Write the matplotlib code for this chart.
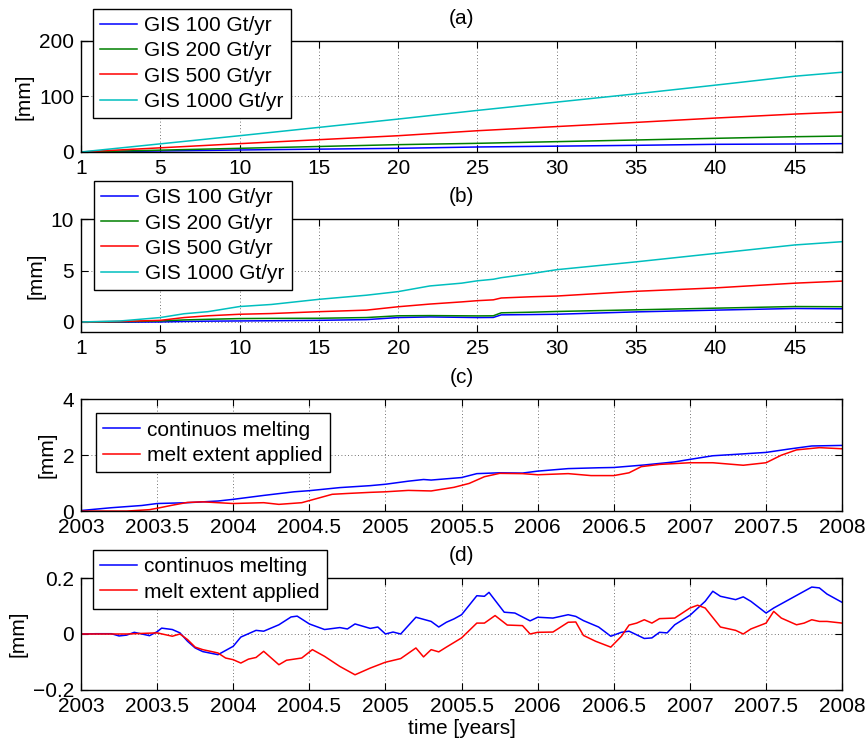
import numpy as np
import matplotlib
matplotlib.use('Agg')
import matplotlib.pyplot as plt

plt.rcParams['font.family'] = ['Liberation Sans', 'DejaVu Sans']
plt.rcParams['font.size'] = 15
plt.rcParams['axes.unicode_minus'] = True

# (a) 累积海平面 - 线性融化
yr_a = [0, 10, 20, 25, 35, 40, 45, 48]
gis100_a = [0, 3.6, 6.6, 9.0, 12.0, 13.8, 14.4, 15.0]
gis200_a = [0, 6.6, 13.2, 15.6, 21.6, 24.6, 27.5, 28.7]
gis500_a = [0, 15.0, 29.3, 38.3, 53.3, 61.1, 68.3, 71.9]
gis1000_a = [0, 29.3, 59.3, 74.9, 104.8, 120.4, 136.5, 143.7]

# (b)
yr_b = [0, 2.5, 5, 6.5, 8, 10, 12, 15, 18, 20, 22, 24, 25, 26, 26.5, 28.4, 30, 35, 40, 45, 48]
gis100_b = [0, -0.02, 0.0, 0.05, 0.08, 0.1, 0.12, 0.16, 0.23, 0.43, 0.49, 0.45, 0.43, 0.44,
            0.69, 0.72, 0.75, 0.98, 1.15, 1.31, 1.28]
gis200_b = [0, 0.02, 0.1, 0.2, 0.26, 0.33, 0.35, 0.36, 0.43, 0.6, 0.62, 0.6, 0.59, 0.6,
            0.89, 0.95, 1.02, 1.18, 1.34, 1.5, 1.48]
gis500_b = [0, 0.05, 0.16, 0.43, 0.6, 0.75, 0.82, 1.0, 1.15, 1.48, 1.74, 1.95, 2.07, 2.15,
            2.33, 2.45, 2.52, 2.98, 3.31, 3.77, 3.97]
gis1000_b = [0, 0.1, 0.43, 0.8, 1.0, 1.5, 1.7, 2.2, 2.6, 2.95, 3.5, 3.77, 4.0, 4.15,
             4.3, 4.7, 5.08, 5.84, 6.66, 7.48, 7.8]

# (c)
t_c_blue = [2003.0, 2003.2, 2003.4, 2003.5, 2003.7, 2003.9, 2004.0, 2004.2, 2004.4, 2004.5,
            2004.7, 2004.9, 2005.0, 2005.15, 2005.25, 2005.3, 2005.5, 2005.6, 2005.75, 2005.9,
            2006.0, 2006.2, 2006.4, 2006.5, 2006.7, 2006.9, 2007.0, 2007.15, 2007.3, 2007.5,
            2007.65, 2007.8, 2008.0]
cont_c = [0.02, 0.12, 0.2, 0.27, 0.3, 0.36, 0.42, 0.56, 0.69, 0.73,
          0.84, 0.91, 0.96, 1.07, 1.13, 1.11, 1.2, 1.34, 1.37, 1.36,
          1.43, 1.52, 1.55, 1.56, 1.65, 1.76, 1.85, 1.98, 2.03, 2.1,
          2.22, 2.33, 2.35]
t_c_red = [2003.0, 2003.3, 2003.45, 2003.5, 2003.6, 2003.7, 2003.8, 2004.0, 2004.2, 2004.3,
           2004.45, 2004.55, 2004.65, 2004.75, 2004.9, 2005.0, 2005.15, 2005.3, 2005.45,
           2005.55, 2005.65, 2005.75, 2005.9, 2006.0, 2006.2, 2006.35, 2006.5, 2006.6,
           2006.68, 2006.8, 2007.0, 2007.15, 2007.35, 2007.5, 2007.6, 2007.7, 2007.85, 2008.0]
melt_c = [0.0, 0.0, 0.05, 0.1, 0.21, 0.31, 0.33, 0.27, 0.3, 0.24,
          0.3, 0.45, 0.6, 0.63, 0.67, 0.69, 0.74, 0.72, 0.85,
          0.99, 1.23, 1.35, 1.34, 1.3, 1.34, 1.27, 1.27, 1.37,
          1.59, 1.67, 1.73, 1.73, 1.64, 1.73, 2.0, 2.19, 2.27, 2.23]

# (d)
t_d_blue = [2003.0, 2003.1, 2003.2, 2003.25, 2003.3, 2003.35, 2003.45, 2003.5, 2003.53, 2003.6,
            2003.65, 2003.7, 2003.75, 2003.8, 2003.9, 2004.0, 2004.05, 2004.15, 2004.2, 2004.3,
            2004.38, 2004.42, 2004.5, 2004.6, 2004.7, 2004.75, 2004.8, 2004.9, 2004.95, 2005.0,
            2005.05, 2005.1, 2005.2, 2005.3, 2005.35, 2005.4, 2005.45, 2005.5, 2005.6, 2005.65,
            2005.68, 2005.78, 2005.85, 2005.95, 2006.0, 2006.1, 2006.2, 2006.25, 2006.3, 2006.4,
            2006.48, 2006.55, 2006.6, 2006.7, 2006.75, 2006.8, 2006.85, 2006.9, 2007.0, 2007.1,
            2007.15, 2007.2, 2007.3, 2007.35, 2007.4, 2007.5, 2007.55, 2007.65, 2007.75, 2007.8,
            2007.85, 2007.9, 2008.0]
cont_d = [0, 0.001, 0.001, -0.007, -0.004, 0.006, -0.006, 0.008, 0.021, 0.016,
          0.004, -0.026, -0.05, -0.063, -0.074, -0.044, -0.011, 0.013, 0.01, 0.033,
          0.061, 0.064, 0.036, 0.016, 0.023, 0.018, 0.036, 0.02, 0.025, 0.0,
          0.007, 0.0, 0.06, 0.045, 0.025, 0.042, 0.054, 0.069, 0.137, 0.135,
          0.149, 0.078, 0.075, 0.047, 0.06, 0.057, 0.069, 0.063, 0.048, 0.025,
          -0.008, 0.006, 0.01, -0.016, -0.014, 0.006, 0.004, 0.033, 0.067, 0.117,
          0.153, 0.135, 0.123, 0.133, 0.117, 0.075, 0.093, 0.123, 0.153, 0.168,
          0.165, 0.143, 0.113]
t_d_red = [2003.0, 2003.3, 2003.5, 2003.6, 2003.65, 2003.7, 2003.75, 2003.8, 2003.9, 2003.95,
           2004.0, 2004.05, 2004.1, 2004.15, 2004.2, 2004.3, 2004.35, 2004.45, 2004.52, 2004.6,
           2004.7, 2004.8, 2004.9, 2005.0, 2005.1, 2005.2, 2005.25, 2005.3, 2005.35, 2005.4,
           2005.5, 2005.6, 2005.65, 2005.72, 2005.8, 2005.9, 2005.95, 2006.0, 2006.1, 2006.2,
           2006.25, 2006.3, 2006.38, 2006.48, 2006.55, 2006.6, 2006.65, 2006.7, 2006.75, 2006.8,
           2006.9, 2007.0, 2007.05, 2007.1, 2007.2, 2007.3, 2007.35, 2007.4, 2007.5, 2007.55,
           2007.6, 2007.7, 2007.75, 2007.8, 2007.85, 2007.9, 2008.0]
melt_d = [0, 0, 0.004, -0.008, 0, -0.02, -0.047, -0.056, -0.068, -0.086,
          -0.092, -0.104, -0.09, -0.084, -0.062, -0.11, -0.094, -0.086, -0.056, -0.08,
          -0.116, -0.146, -0.122, -0.101, -0.088, -0.05, -0.082, -0.056, -0.064, -0.047,
          -0.014, 0.039, 0.039, 0.066, 0.032, 0.03, 0.0, 0.006, 0.007, 0.042,
          0.043, -0.005, -0.026, -0.047, -0.008, 0.032, 0.039, 0.051, 0.039, 0.055,
          0.057, 0.093, 0.103, 0.093, 0.025, 0.013, 0.0, 0.018, 0.039, 0.081,
          0.057, 0.033, 0.039, 0.051, 0.045, 0.045, 0.039]

gis_labels = ['GIS 100 Gt/yr', 'GIS 200 Gt/yr', 'GIS 500 Gt/yr', 'GIS 1000 Gt/yr']
gis_colors = ['#0000ff', '#008000', '#ff0000', '#00bfbf']
yr_ticks = [0, 5, 10, 15, 20, 25, 30, 35, 40, 45]
yr_ticklabels = ['1', '5', '10', '15', '20', '25', '30', '35', '40', '45']
t_ticks = [2003, 2003.5, 2004, 2004.5, 2005, 2005.5, 2006, 2006.5, 2007, 2007.5, 2008]
t_ticklabels = ['2003', '2003.5', '2004', '2004.5', '2005', '2005.5', '2006',
                '2006.5', '2007', '2007.5', '2008']

fig = plt.figure(figsize=(8.67, 7.45), dpi=100)
left, width = 0.0934, 0.878
ax_a = fig.add_axes([left, 0.796, width, 0.149])
ax_b = fig.add_axes([left, 0.554, width, 0.152])
ax_c = fig.add_axes([left, 0.314, width, 0.150])
ax_d = fig.add_axes([left, 0.074, width, 0.150])


def style_axes(ax):
    ax.grid(True, linestyle=(0, (1, 3)), color='#444444', linewidth=0.6)
    ax.tick_params(direction='in', top=True, right=True, length=5, width=0.8, pad=5)
    for s in ax.spines.values():
        s.set_linewidth(1.0)


def add_legend(ax, x0, y0):
    leg = ax.legend(loc='upper left', bbox_to_anchor=(x0, y0), borderaxespad=0,
                    fancybox=False, framealpha=1, edgecolor='black',
                    handlelength=1.75, labelspacing=0.3, borderpad=0.35,
                    handletextpad=0.35, fontsize=15)
    leg.get_frame().set_linewidth(1.0)
    leg.set_zorder(5)


# (a)
for y, lab, c in zip([gis100_a, gis200_a, gis500_a, gis1000_a], gis_labels, gis_colors):
    ax_a.plot(yr_a, y, color=c, lw=1.1, label=lab)
ax_a.set_xlim(0, 48)
ax_a.set_ylim(0, 200)
ax_a.set_yticks([0, 100, 200])
ax_a.set_xticks(yr_ticks)
ax_a.set_xticklabels(yr_ticklabels)
ax_a.set_ylabel('[mm]')
ax_a.set_title('(a)', fontsize=15, pad=12)
style_axes(ax_a)
add_legend(ax_a, 0.016, 1.29)

# (b)
for y, lab, c in zip([gis100_b, gis200_b, gis500_b, gis1000_b], gis_labels, gis_colors):
    ax_b.plot(yr_b, y, color=c, lw=1.1, label=lab)
ax_b.set_xlim(0, 48)
ax_b.set_ylim(-1, 10)
ax_b.set_yticks([0, 5, 10])
ax_b.set_xticks(yr_ticks)
ax_b.set_xticklabels(yr_ticklabels)
ax_b.set_ylabel('[mm]')
ax_b.set_title('(b)', fontsize=15, pad=12)
style_axes(ax_b)
add_legend(ax_b, 0.017, 1.336)

# (c)
ax_c.plot(t_c_blue, cont_c, color='#0000ff', lw=1.1, label='continuos melting')
ax_c.plot(t_c_red, melt_c, color='#ff0000', lw=1.1, label='melt extent applied')
ax_c.set_xlim(2003, 2008)
ax_c.set_ylim(0, 4)
ax_c.set_yticks([0, 2, 4])
ax_c.set_xticks(t_ticks)
ax_c.set_xticklabels(t_ticklabels)
ax_c.set_ylabel('[mm]')
ax_c.set_title('(c)', fontsize=15, pad=12)
style_axes(ax_c)
add_legend(ax_c, 0.02, 0.875)

# (d)
ax_d.plot(t_d_blue, cont_d, color='#0000ff', lw=1.1, label='continuos melting')
ax_d.plot(t_d_red, melt_d, color='#ff0000', lw=1.1, label='melt extent applied')
ax_d.set_xlim(2003, 2008)
ax_d.set_ylim(-0.2, 0.2)
ax_d.set_yticks([-0.2, 0, 0.2])
ax_d.set_yticklabels(['\u22120.2', '0', '0.2'])
ax_d.set_xticks(t_ticks)
ax_d.set_xticklabels(t_ticklabels)
ax_d.set_ylabel('[mm]')
ax_d.set_xlabel('time [years]', labelpad=2)
ax_d.set_title('(d)', fontsize=15, pad=12)
style_axes(ax_d)
add_legend(ax_d, 0.016, 1.25)

fig.savefig('out.png', dpi=100)
